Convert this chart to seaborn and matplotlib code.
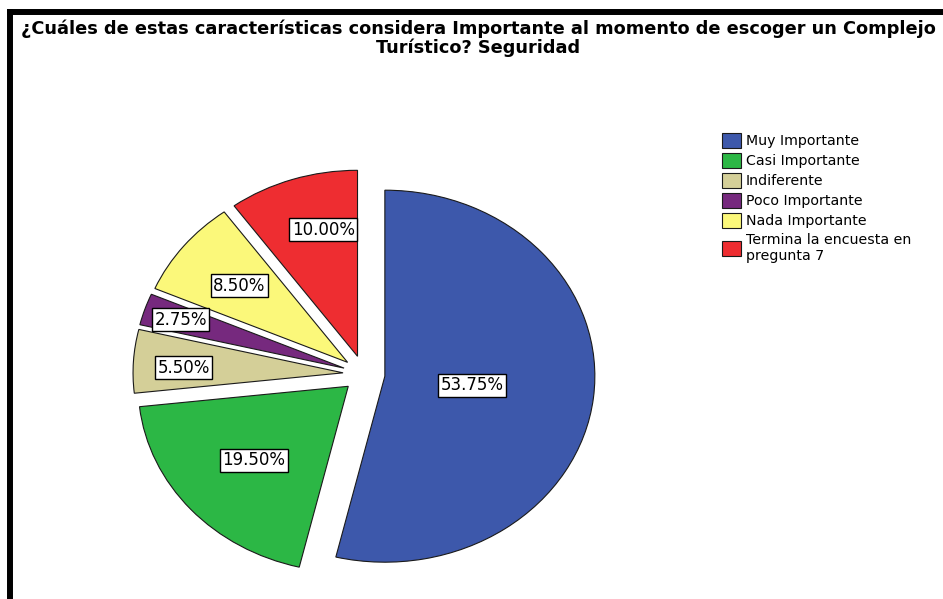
import matplotlib
matplotlib.use("Agg")
import matplotlib.pyplot as plt
import seaborn as sns
import numpy as np
from matplotlib.lines import Line2D

# data
categories = ["Muy Importante", "Casi Importante", "Indiferente",
              "Poco Importante", "Nada Importante",
              "Termina la encuesta en\npregunta 7"]
percentages = [53.75, 19.50, 5.50, 2.75, 8.50, 10.00]
slice_colors = ["#3D58AB", "#2CB745", "#D4CF98", "#76297E", "#FBF87A", "#EE2D31"]

title = ("¿Cuáles de estas características considera Importante al momento de escoger un Complejo\n"
         "Turístico? Seguridad")

sns.set_theme(style="white")
plt.rcParams['font.family'] = ['DejaVu Sans']
plt.rcParams['text.color'] = 'black'

W, H = 943, 599
fig = plt.figure(figsize=(W / 100, H / 100), dpi=100)
fig.patch.set_facecolor('white')

# pie is slightly stretched horizontally in the original, so use separate radii
cx, cy = 364, 374
rx, ry = 210, 186
lim = 1.2
ax = fig.add_axes([(cx - lim * rx) / W, (H - cy - lim * ry) / H,
                   2 * lim * rx / W, 2 * lim * ry / H])

wedges, texts, autotexts = ax.pie(
    percentages, colors=slice_colors, explode=[0.1] * len(percentages),
    startangle=90, counterclock=False, autopct='%.2f%%',
    wedgeprops=dict(edgecolor='#1a1a1a', linewidth=0.8),
    textprops=dict(fontsize=12, color='black'))
ax.set_aspect('auto')
ax.set_xlim(-lim, lim)
ax.set_ylim(-lim, lim)

# label placement: distance from exploded slice centre, and position across the slice
label_r = [0.42, 0.60, 0.76, 0.82, 0.66, 0.70]
label_frac = [0.5, 0.5, 0.58, 0.5, 0.5, 0.375]
for w, t, r, f in zip(wedges, autotexts, label_r, label_frac):
    ang = np.deg2rad(w.theta1 + f * (w.theta2 - w.theta1))
    x0, y0 = w.center
    t.set_position((x0 + r * np.cos(ang), y0 + r * np.sin(ang)))
    t.set_bbox(dict(facecolor='white', edgecolor='black', linewidth=1,
                    boxstyle='square,pad=0.15'))

fig.legend(wedges, categories, loc='upper left',
           bbox_to_anchor=(722 / W, 1 - 133 / H), frameon=False,
           fontsize=10.2, handlelength=1.35, handleheight=1.25,
           handletextpad=0.35, labelspacing=0.33, borderpad=0,
           borderaxespad=0, labelcolor='black')

fig.text(478 / W, 1 - 20 / H, title, ha='center', va='top', fontsize=12.8,
         fontweight='bold', linespacing=1.0, color='black')

# thick black frame on top and left edges
fig.add_artist(Line2D([7 / W, 1], [1 - 12 / H] * 2, color='black', lw=4.3,
                      solid_capstyle='butt', transform=fig.transFigure))
fig.add_artist(Line2D([10 / W] * 2, [0, 1 - 9 / H], color='black', lw=4.3,
                      solid_capstyle='butt', transform=fig.transFigure))

fig.savefig('out.png', dpi=100)
plt.close()
